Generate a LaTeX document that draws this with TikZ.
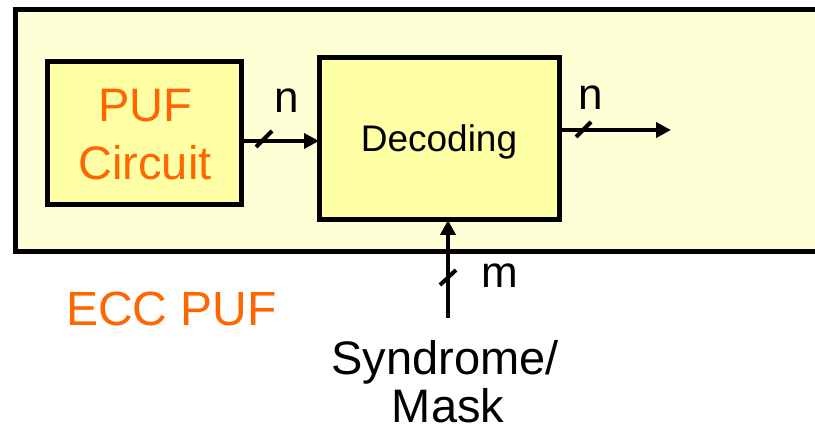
\documentclass[tikz,border=0pt]{standalone}
\usepackage{fontspec}
\setmainfont{Liberation Sans}
\usetikzlibrary{arrows.meta}
\definecolor{outerfill}{HTML}{FFFFD5}
\definecolor{boxfill}{HTML}{FFFFA6}
\definecolor{pufor}{HTML}{FF6600}
\tikzset{
  blk/.style={draw=black, line width=5pt, fill=boxfill, rectangle, inner sep=0pt, outer sep=0pt},
  conn/.style={line width=4pt, -{Triangle[length=15pt,width=15pt]}},
  slashmark/.style={line width=4pt},
  lbl/.style={anchor=base, inner sep=0pt, font=\fontsize{44}{52}\selectfont},
}
\begin{document}
\begin{tikzpicture}[x=1pt,y=-1pt]
\useasboundingbox (0,0) rectangle (815,435);
\begin{scope}
\clip (0,0) rectangle (815,435);
\draw[line width=5pt, fill=outerfill] (15,10) rectangle (840,252);
\end{scope}
% boxes
\node[blk, minimum width=194pt, minimum height=143pt] (puf) at (144,133.5) {};
\node[blk, minimum width=240pt, minimum height=162pt] (dec) at (439,139) {};
% box texts
\node[anchor=base, inner sep=0pt, text=pufor, font=\fontsize{47}{52}\selectfont] (puft) at (145,122) {PUF};
\node[anchor=base, inner sep=0pt, text=pufor, font=\fontsize{47}{52}\selectfont] (cirt) at (145,180) {Circuit};
\node[anchor=base, inner sep=0pt, font=\fontsize{37}{42}\selectfont] (dect) at (439,152) {Decoding};
% connectors
\coordinate (a1) at (0,141);
\coordinate (a2) at (0,130);
\coordinate (out) at (671,130);
\coordinate (syn) at (448,318);
\draw[conn] (puf.east |- a1) -- (dec.west |- a1);
\draw[conn] (dec.east |- a2) -- (out);
\draw[conn] (syn) -- (syn |- dec.south);
% slash marks
\draw[slashmark] (256,147) -- (272,131);
\draw[slashmark] (576,137) -- (591,122);
\draw[slashmark] (440,285) -- (456,270);
% labels
\node[lbl] (n1) at (287,113) {n};
\node[lbl] (n2) at (591,110) {n};
\node[lbl] (m) at (500,288) {m};
\node[anchor=base west, inner sep=0pt, text=pufor, font=\fontsize{48}{52}\selectfont] (ecc) at (66,326) {ECC PUF};
\node[anchor=base, inner sep=0pt, font=\fontsize{47}{52}\selectfont] (syn1) at (445,375) {Syndrome/};
\node[anchor=base, inner sep=0pt, font=\fontsize{47}{52}\selectfont] (syn2) at (448,423) {Mask};
\end{tikzpicture}
\end{document}
